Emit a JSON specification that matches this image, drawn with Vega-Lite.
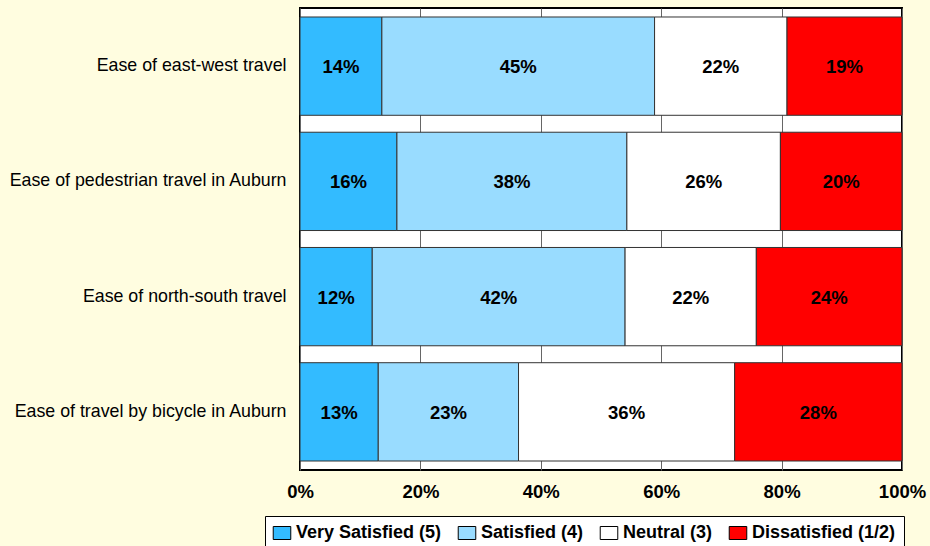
{
  "$schema": "https://vega.github.io/schema/vega-lite/v6.json",
  "width": 602,
  "height": 462,
  "autosize": {"type": "none"},
  "padding": {"left": 300, "top": 8, "right": 28, "bottom": 76},
  "background": "#fffde0",
  "data": {
    "values": [
      {"item": "Ease of east-west travel", "rating": "Very Satisfied (5)", "rank": 1, "value": 13.6, "label": "14%"},
      {"item": "Ease of east-west travel", "rating": "Satisfied (4)", "rank": 2, "value": 45.3, "label": "45%"},
      {"item": "Ease of east-west travel", "rating": "Neutral (3)", "rank": 3, "value": 22.0, "label": "22%"},
      {"item": "Ease of east-west travel", "rating": "Dissatisfied (1/2)", "rank": 4, "value": 19.1, "label": "19%"},
      {"item": "Ease of pedestrian travel in Auburn", "rating": "Very Satisfied (5)", "rank": 1, "value": 16.1, "label": "16%"},
      {"item": "Ease of pedestrian travel in Auburn", "rating": "Satisfied (4)", "rank": 2, "value": 38.2, "label": "38%"},
      {"item": "Ease of pedestrian travel in Auburn", "rating": "Neutral (3)", "rank": 3, "value": 25.5, "label": "26%"},
      {"item": "Ease of pedestrian travel in Auburn", "rating": "Dissatisfied (1/2)", "rank": 4, "value": 20.2, "label": "20%"},
      {"item": "Ease of north-south travel", "rating": "Very Satisfied (5)", "rank": 1, "value": 12.0, "label": "12%"},
      {"item": "Ease of north-south travel", "rating": "Satisfied (4)", "rank": 2, "value": 42.0, "label": "42%"},
      {"item": "Ease of north-south travel", "rating": "Neutral (3)", "rank": 3, "value": 21.8, "label": "22%"},
      {"item": "Ease of north-south travel", "rating": "Dissatisfied (1/2)", "rank": 4, "value": 24.2, "label": "24%"},
      {"item": "Ease of travel by bicycle in Auburn", "rating": "Very Satisfied (5)", "rank": 1, "value": 13.0, "label": "13%"},
      {"item": "Ease of travel by bicycle in Auburn", "rating": "Satisfied (4)", "rank": 2, "value": 23.3, "label": "23%"},
      {"item": "Ease of travel by bicycle in Auburn", "rating": "Neutral (3)", "rank": 3, "value": 35.9, "label": "36%"},
      {"item": "Ease of travel by bicycle in Auburn", "rating": "Dissatisfied (1/2)", "rank": 4, "value": 27.8, "label": "28%"}
    ]
  },
  "transform": [
    {"stack": "value", "groupby": ["item"], "sort": [{"field": "rank", "order": "ascending"}], "as": ["v0", "v1"]}
  ],
  "encoding": {
    "y": {
      "field": "item",
      "type": "nominal",
      "sort": ["Ease of east-west travel", "Ease of pedestrian travel in Auburn", "Ease of north-south travel", "Ease of travel by bicycle in Auburn"],
      "scale": {"paddingInner": 0.147, "paddingOuter": 0.078},
      "axis": {
        "title": null,
        "domain": false,
        "ticks": false,
        "labelFont": "Liberation Sans",
        "labelFontSize": 17.8,
        "labelColor": "#000000",
        "labelPadding": 14,
        "labelLimit": 0
      }
    }
  },
  "layer": [
    {
      "mark": {"type": "bar", "stroke": "#333333", "strokeWidth": 1},
      "encoding": {
        "x": {
          "field": "v0",
          "type": "quantitative",
          "scale": {"domain": [0, 100], "nice": false},
          "axis": {
            "title": null,
            "values": [0, 20, 40, 60, 80, 100],
            "labelExpr": "datum.value + '%'",
            "grid": true,
            "gridColor": "#666666",
            "gridWidth": 1,
            "ticks": false,
            "domain": false,
            "labelFlush": false,
            "labelFont": "Liberation Sans",
            "labelFontSize": 18.5,
            "labelFontWeight": "bold",
            "labelColor": "#000000",
            "labelPadding": 12
          }
        },
        "x2": {"field": "v1"},
        "color": {
          "field": "rating",
          "type": "nominal",
          "scale": {
            "domain": ["Very Satisfied (5)", "Satisfied (4)", "Neutral (3)", "Dissatisfied (1/2)"],
            "range": ["#33bbff", "#99dcff", "#ffffff", "#ff0000"]
          },
          "legend": {
            "title": null,
            "orient": "none",
            "legendX": -35,
            "legendY": 508,
            "direction": "horizontal",
            "columns": 4,
            "fillColor": "#ffffff",
            "strokeColor": "#000000",
            "padding": 8,
            "labelFont": "Liberation Sans",
            "labelFontSize": 18,
            "labelFontWeight": "bold",
            "labelColor": "#000000",
            "labelOffset": 5,
            "columnPadding": 14,
            "symbolType": "M-1.35,-1H1.35V1H-1.35Z",
            "symbolSize": 169,
            "symbolStrokeColor": "#000000",
            "symbolStrokeWidth": 1,
            "symbolOpacity": 1
          }
        }
      }
    },
    {
      "transform": [{"calculate": "(datum.v0 + datum.v1) / 2", "as": "mid"}],
      "mark": {"type": "text", "font": "Liberation Sans", "fontWeight": "bold", "fontSize": 18.5, "color": "#000000", "dy": 1},
      "encoding": {
        "x": {"field": "mid", "type": "quantitative"},
        "text": {"field": "label"}
      }
    }
  ],
  "config": {
    "view": {"stroke": "#000000", "strokeWidth": 2, "fill": "#ffffff"}
  }
}
